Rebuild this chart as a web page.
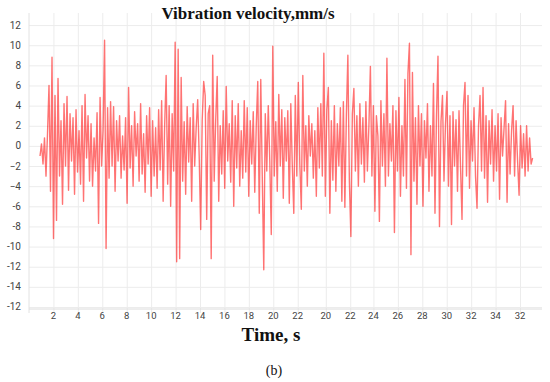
<!DOCTYPE html>
<html>
<head>
<meta charset="utf-8">
<script src="https://cdn.jsdelivr.net/npm/d3@7"></script>
<style>
  body { margin: 0; background: #fff; }
  #chart { width: 550px; height: 382px; }
</style>
</head>
<body>
<div id="chart"></div>
<script>
// velocidade de vibração, mm/s (amostras igualmente espaçadas)
const velocity = [
  -1.0, 0.2, -1.8, 0.8, -3.0, 1.2, 6.0, -4.5, 8.8, -9.2,
  5.0, -7.4, 6.7, -3.0, 2.5, -5.8, 4.2, -2.0, 4.9, -4.4,
  3.2, -1.5, 2.8, -4.8, 3.6, -2.6, 1.5, -3.8, 4.0, -5.5,
  5.1, -1.2, 3.0, -3.5, 2.2, -4.0, 0.8, -2.5, 3.3, -7.7,
  4.8, -2.0, 1.5, 10.5, -10.2, 3.8, -3.2, 4.4, -2.0, 3.9,
  -4.5, 2.5, -1.5, 3.0, -3.2, 1.0, -2.4, 2.8, -5.7, 5.8,
  -2.2, 2.0, -4.0, 3.4, -1.0, 2.2, -3.5, 4.2, -2.8, 1.2,
  -4.6, 3.0, -1.8, 3.8, -5.0, 2.5, -3.0, 1.8, -4.2, 3.6,
  -2.4, 4.5, -5.5, 2.0, 7.0, -3.8, 4.0, -6.0, 3.2, -2.5,
  10.3, -11.5, 9.6, -11.2, 6.8, -3.5, 2.4, -4.8, 3.9, -1.6,
  2.8, -5.5, 4.2, -2.0, 1.8, 4.6, -1.0, -8.3, 2.5, 6.4,
  5.0, -7.3, 3.2, 4.0, -11.2, 9.0, -3.5, 2.6, 6.9, -5.5,
  2.0, -2.8, 3.5, -4.2, 5.9, -1.5, 2.2, -3.6, 4.5, -6.0,
  3.0, -2.2, 4.2, -4.0, 1.5, -3.2, 4.5, -2.6, 3.8, -5.0,
  2.5, -1.8, 3.4, -4.6, 2.0, 6.4, -6.7, 6.6, -3.0, -12.3,
  3.2, -2.5, 4.0, -1.5, -8.8, 9.9, -3.0, 2.4, -4.5, 5.1,
  -2.0, 3.6, -5.2, 2.8, -1.5, 3.5, -5.7, 4.2, -2.0, -6.7,
  5.0, -3.0, 6.3, -1.8, -6.3, 7.0, -2.5, 2.0, -4.0, 3.0,
  -1.0, 2.2, -3.2, 1.5, -5.0, 3.8, -2.2, 4.2, -3.0, 9.2,
  -5.0, 3.6, 5.8, -6.7, 2.5, -3.4, 4.0, -4.5, 2.2, -2.0,
  3.8, -5.5, 4.4, -6.1, 3.0, 9.0, -3.5, -9.0, 3.2, 5.7,
  -2.5, 3.0, -4.0, 4.2, -1.8, 2.8, -3.6, 4.4, -2.5, 2.0,
  7.9, -3.0, 4.0, -6.5, 3.0, 1.0, -7.5, 4.5, -2.0, 3.2,
  -4.0, 8.7, -3.0, 2.2, -1.5, 4.0, -8.6, 3.5, -2.5, 4.8,
  -5.0, 2.0, -3.0, 6.6, -4.2, 7.2, 10.2, -10.8, 7.3, -3.5,
  2.8, -5.8, 4.0, -2.0, 3.2, -6.0, 2.5, -1.2, 4.2, -4.5,
  2.0, -3.0, 6.2, -6.7, 3.0, 8.9, -8.0, 2.4, 5.0, -3.5,
  2.2, 5.4, -4.0, 3.0, -7.8, 3.4, -2.0, 2.6, -4.5, 3.5,
  -2.0, -7.3, 4.0, 6.3, -3.0, 5.0, -4.2, 2.5, -1.5, 3.8,
  -3.0, -6.2, 2.0, 5.0, -2.5, 5.8, -3.2, 3.0, -5.6, 2.5,
  -1.8, 3.6, -3.5, 2.0, -2.5, 3.2, -5.3, 2.8, -1.0, 1.8,
  4.5, -5.6, 2.2, -2.8, 1.5, 4.0, -3.0, 2.5, -1.5, -4.9,
  2.0, -2.2, 1.2, -3.0, 2.0, -2.5, 0.8, -1.8, -1.2
];

// início e fim do registro no eixo do tempo
const timeStart = 0.9;
const timeEnd = 41.23;

// rótulos do eixo X (como aparecem na figura) e suas posições
const xTickValues = [2, 4, 6, 8, 10, 12, 14, 16, 18, 20, 22,
  24.3, 26.3, 28.2, 30.2, 32.2, 34.2, 36.2, 38.2, 40.2];
const xTickLabels = ["2", "4", "6", "8", "10", "12", "14", "16", "18", "20", "22",
  "20", "22", "24", "26", "28", "30", "32", "34", "32"];

// rótulos do eixo Y
const yTickValues = [12, 10, 8, 6, 4, 2, 0, -2, -4, -6, -8, -10, -12, -14, -16];
const yTickLabels = ["12", "10", "8", "6", "4", "2", "0", "\u22122", "\u22124",
  "-6", "-8", "-10", "-12", "-14", "-12"];

const width = 550;
const height = 382;
const margin = { top: 13, right: 8, bottom: 73, left: 29 };

const svg = d3
  .select("#chart")
  .append("svg")
  .attr("width", width)
  .attr("height", height);

const xScale = d3
  .scaleLinear()
  .domain([0, 42])
  .range([margin.left, width - margin.right]);

const yScale = d3
  .scaleLinear()
  .domain([-16.2, 13.2])
  .range([height - margin.bottom, margin.top]);

// índice da amostra -> tempo
const sampleScale = d3
  .scaleLinear()
  .domain([0, velocity.length - 1])
  .range([timeStart, timeEnd]);

// grade horizontal
svg
  .append("g")
  .attr("transform", `translate(${margin.left},0)`)
  .call(
    d3
      .axisLeft(yScale)
      .tickValues(yTickValues)
      .tickSize(-(width - margin.left - margin.right))
      .tickFormat("")
  )
  .call((g) => g.select(".domain").remove())
  .selectAll("line")
  .attr("stroke", "#ececec");

// grade vertical
svg
  .append("g")
  .attr("transform", `translate(0,${height - margin.bottom + 4})`)
  .call(
    d3
      .axisBottom(xScale)
      .tickValues(xTickValues)
      .tickSize(-(height - margin.top - margin.bottom + 4))
      .tickFormat("")
  )
  .call((g) => g.select(".domain").remove())
  .selectAll("line")
  .attr("stroke", "#ececec");

// linhas dos eixos
svg
  .append("line")
  .attr("x1", margin.left)
  .attr("x2", margin.left)
  .attr("y1", margin.top)
  .attr("y2", height - margin.bottom + 4)
  .attr("stroke", "#e2e2e2");

svg
  .append("line")
  .attr("x1", margin.left)
  .attr("x2", width - margin.right)
  .attr("y1", height - margin.bottom)
  .attr("y2", height - margin.bottom)
  .attr("stroke", "#dcdcdc");

// rótulos do eixo Y
svg
  .selectAll(".ylabel")
  .data(yTickValues)
  .enter()
  .append("text")
  .attr("class", "ylabel")
  .attr("x", 21)
  .attr("y", (d) => yScale(d))
  .attr("dy", ".35em")
  .attr("text-anchor", "end")
  .style("font-family", "Roboto, sans-serif")
  .style("font-size", "10px")
  .style("fill", "#444")
  .text((d, i) => yTickLabels[i]);

// rótulos do eixo X
svg
  .selectAll(".xlabel")
  .data(xTickValues)
  .enter()
  .append("text")
  .attr("class", "xlabel")
  .attr("x", (d) => xScale(d))
  .attr("y", height - margin.bottom + 10)
  .attr("text-anchor", "middle")
  .style("font-family", "Roboto, sans-serif")
  .style("font-size", "9.5px")
  .style("fill", "#444")
  .text((d, i) => xTickLabels[i]);

// sinal
const line = d3
  .line()
  .x((d, i) => xScale(sampleScale(i)))
  .y((d) => yScale(d));

svg
  .append("path")
  .datum(velocity)
  .attr("d", line)
  .attr("fill", "none")
  .attr("stroke", "#ff0000")
  .attr("stroke-opacity", 0.55)
  .attr("stroke-width", 1.4)
  .attr("stroke-linejoin", "round");

// títulos
svg
  .append("text")
  .attr("x", 248)
  .attr("y", 19)
  .attr("text-anchor", "middle")
  .style("font-family", "'Liberation Serif', serif")
  .style("font-weight", "bold")
  .style("font-size", "17px")
  .style("fill", "#111")
  .text("Vibration velocity,mm/s");

svg
  .append("text")
  .attr("x", 271)
  .attr("y", 341)
  .attr("text-anchor", "middle")
  .style("font-family", "'Liberation Serif', serif")
  .style("font-weight", "bold")
  .style("font-size", "19px")
  .style("fill", "#111")
  .text("Time, s");

svg
  .append("text")
  .attr("x", 274)
  .attr("y", 375)
  .attr("text-anchor", "middle")
  .style("font-family", "'Liberation Serif', serif")
  .style("font-size", "14px")
  .style("fill", "#111")
  .text("(b)");
</script>
</body>
</html>
